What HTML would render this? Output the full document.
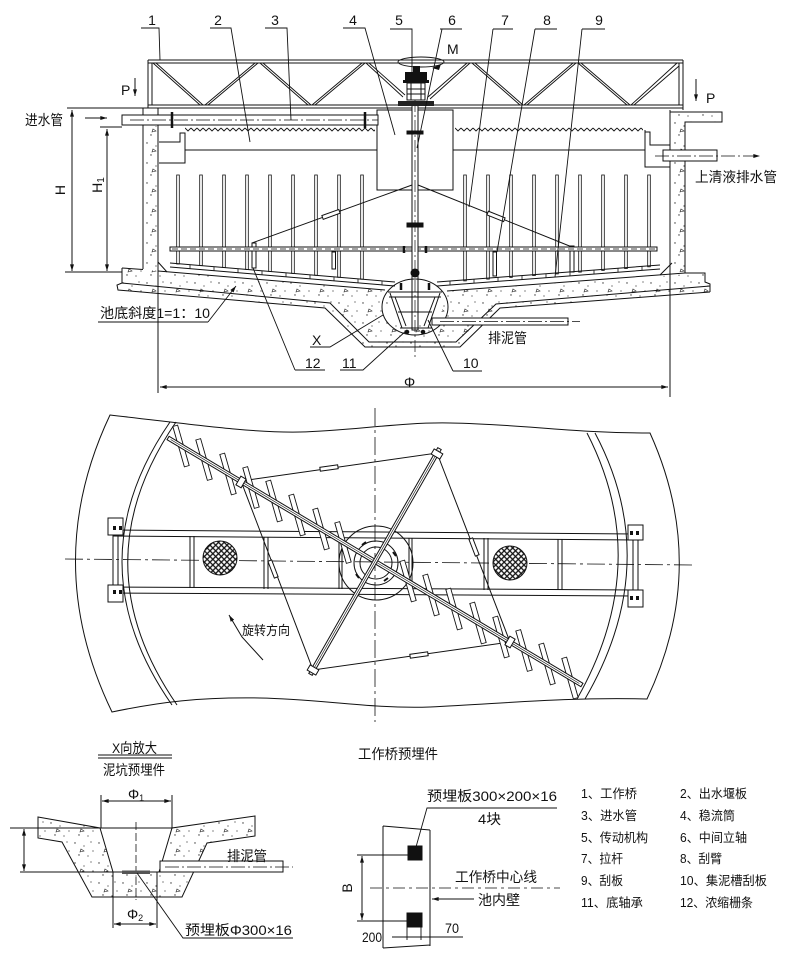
<!DOCTYPE html>
<html><head><meta charset="utf-8">
<style>
html,body{margin:0;padding:0;background:#fff;}
svg{display:block;}
text{font-family:"Liberation Sans","Noto Sans CJK SC",sans-serif;fill:#111;stroke:none;}
</style></head><body>
<svg width="800" height="964" viewBox="0 0 800 964" xmlns="http://www.w3.org/2000/svg">
<defs>
<pattern id="conc" width="24" height="20" patternUnits="userSpaceOnUse">
 <circle cx="3" cy="3" r=".7" fill="#333"/><circle cx="12" cy="6" r=".6" fill="#333"/><circle cx="19" cy="2" r=".6" fill="#333"/>
 <circle cx="7" cy="15" r=".7" fill="#333"/><circle cx="16" cy="16" r=".6" fill="#333"/><circle cx="21" cy="11" r=".6" fill="#333"/>
 <path d="M9,9 l3,2 l-4,1 z" fill="none" stroke="#222" stroke-width=".6"/>
</pattern>
<pattern id="zzL" x="185" y="127" width="6" height="5" patternUnits="userSpaceOnUse"><path d="M0,1 L3,4 L6,1" fill="none" stroke="#111" stroke-width="0.9"/></pattern>
<pattern id="zzR" x="455" y="127" width="6" height="5" patternUnits="userSpaceOnUse"><path d="M0,1 L3,4 L6,1" fill="none" stroke="#111" stroke-width="0.9"/></pattern>
<pattern id="weave" width="4" height="4" patternUnits="userSpaceOnUse" patternTransform="rotate(45)">
 <rect width="4" height="4" fill="#fff"/>
 <path d="M0,1 H4 M2,0 V4" stroke="#111" stroke-width="1.3"/>
</pattern>
<marker id="ar" viewBox="0 0 10 6" refX="10" refY="3" markerWidth="9" markerHeight="4" orient="auto-start-reverse" markerUnits="userSpaceOnUse"><path d="M0,0 L10,3 L0,6 z" fill="#111"/></marker>
</defs>
<rect width="800" height="964" fill="#fff"/>

<!-- ================= ELEVATION ================= -->
<g fill="none" stroke="#111" stroke-width="1">
 <!-- concrete fills -->
 <rect x="143" y="126" width="15" height="142" fill="url(#conc)" stroke="none"/>
 <polygon points="670,112 722,112 722,122 685,122 685,272 670,272" fill="url(#conc)" stroke="none"/>
 <polygon points="122,268 160,271 385,290 392,325 438,325 447,291 705,273 710,286 710,292 500,308 460,347 365,347 325,308 118,290 117,285 122,283" fill="url(#conc)" stroke="none"/>

 <!-- truss -->
 <path d="M148,60 H683 M148,63 H683 M148,105 H683 M148,108 H683 M148,60 V108 M152,63 V105 M683,60 V110 M679,63 V105"/>
 <path d="M153,63 L200,105 M156,63 L203,105
          M205,105 L255,63 M208,105 L258,63
          M260,63 L308,105 M263,63 L311,105
          M312,105 L362,63 M315,105 L365,63
          M366,63 L403,97 M369,63 L405,95
          M428,97 L467,63 M430,99 L470,63
          M472,63 L520,105 M475,63 L523,105
          M524,105 L573,63 M527,105 L576,63
          M578,63 L627,105 M581,63 L630,105
          M631,105 L677,63 M634,105 L679,66" stroke-width="0.9"/>
 <!-- H top line -->
 <line x1="67" y1="108" x2="148" y2="108"/>
 <line x1="100" y1="127" x2="122" y2="127"/>
 <line x1="65" y1="272" x2="122" y2="272"/>
 <line x1="72" y1="110" x2="72" y2="271" marker-start="url(#ar)" marker-end="url(#ar)"/>
 <line x1="107" y1="129" x2="107" y2="271" marker-start="url(#ar)" marker-end="url(#ar)"/>

 <!-- walls -->
 <line x1="143" y1="108" x2="143" y2="269"/>
 <line x1="158" y1="108" x2="158" y2="393"/>
 <path d="M159,142 H180 V133 H185 V163 H159"/>
 <line x1="670" y1="110" x2="670" y2="397"/>
 <path d="M670,112 H722 V122 H685 V273"/>
 <path d="M645,130 V167 H670 M645,132 H650 V145 H670"/>

 <!-- weir & tank inner -->
 <rect x="185" y="127" width="190" height="5" fill="url(#zzL)" stroke="none"/>
 <rect x="455" y="127" width="188" height="5" fill="url(#zzR)" stroke="none"/>
 <line x1="185" y1="150" x2="377" y2="150"/>
 <line x1="453" y1="150" x2="645" y2="150"/>
 <line x1="377" y1="128" x2="377" y2="150"/>
 <!-- stilling drum -->
 <rect x="377" y="110" width="76" height="80" fill="#fff"/>

 <!-- inlet pipe -->
 <rect x="122" y="115" width="256" height="10" fill="#fff"/>
 <line x1="130" y1="120" x2="378" y2="120" stroke-dasharray="14 3 2 3" stroke-width=".8"/>
 <path d="M172,112 V128 M365,112 V128" stroke-width="2.5"/>

 <!-- outlet pipe -->
 <rect x="663" y="150" width="54" height="11" fill="#fff"/>
 <line x1="655" y1="156" x2="760" y2="156" stroke-dasharray="14 3 2 3" stroke-width=".8" marker-end="url(#ar)"/>

 <!-- P arrows -->
 <line x1="135" y1="78" x2="135" y2="96" marker-end="url(#ar)"/>
 <line x1="696" y1="79" x2="696" y2="101" marker-end="url(#ar)"/>
 <line x1="85" y1="118" x2="107" y2="118" marker-end="url(#ar)"/>

 <!-- pickets -->
 <g fill="#fff" stroke-width=".8">
  <rect x="176.7" y="175" width="2.6" height="89"/>
  <rect x="199.7" y="175" width="2.6" height="90.6"/>
  <rect x="222.7" y="175" width="2.6" height="92.6"/>
  <rect x="245.7" y="175" width="2.6" height="94.5"/>
  <rect x="268.7" y="175" width="2.6" height="96.4"/>
  <rect x="291.7" y="175" width="2.6" height="98.4"/>
  <rect x="314.7" y="175" width="2.6" height="100.3"/>
  <rect x="337.7" y="175" width="2.6" height="102.3"/>
  <rect x="360.7" y="175" width="2.6" height="104.2"/>
  <rect x="463.7" y="175" width="2.6" height="105.9"/>
  <rect x="486.7" y="175" width="2.6" height="104.1"/>
  <rect x="509.7" y="175" width="2.6" height="102.4"/>
  <rect x="532.7" y="175" width="2.6" height="100.6"/>
  <rect x="555.7" y="175" width="2.6" height="98.9"/>
  <rect x="578.7" y="175" width="2.6" height="97.1"/>
  <rect x="601.7" y="175" width="2.6" height="95.4"/>
  <rect x="624.7" y="175" width="2.6" height="93.6"/>
  <rect x="647.7" y="175" width="2.6" height="91.8"/>
 </g>

 <!-- tie rods -->
 <line x1="412" y1="185" x2="252" y2="243"/>
 <line x1="418" y1="185" x2="572" y2="247"/>
 <rect x="-9" y="-2" width="18" height="4" fill="#fff" transform="translate(331,214.4) rotate(-19.9)"/>
 <rect x="-9" y="-2" width="18" height="4" fill="#fff" transform="translate(496,216.4) rotate(21.9)"/>

 <!-- supports -->
 <rect x="252" y="243" width="4" height="25" fill="#fff"/>
 <rect x="570" y="246" width="4" height="26" fill="#fff"/>
 <rect x="332" y="252" width="3.5" height="17" fill="#fff"/>
 <rect x="493" y="252" width="3.5" height="24" fill="#fff"/>

 <!-- scraper arm -->
 <rect x="170" y="247" width="487" height="4" fill="#fff"/>
 <line x1="172" y1="249" x2="655" y2="249" stroke-dasharray="6 3" stroke-width=".7"/>

 <!-- scraper blades -->
 <path d="M170,263 L395,282 M170,267 L395,286 M437,282 L660,265 M437,286 L660,269"/>
 <path d="M190,264.7 v4 M214,266.7 v4 M238,268.7 v4 M262,270.8 v4 M286,272.8 v4 M310,274.8 v4 M334,276.8 v4 M358,278.9 v4 M382,280.9 v4
          M450,281 v4 M474,279.2 v4 M498,277.4 v4 M522,275.5 v4 M546,273.7 v4 M570,271.9 v4 M594,270 v4 M618,268.2 v4 M642,266.4 v4" stroke-width=".8"/>

 <!-- floor lines -->
 <path d="M122,268 L143,269.5 M158,271 L385,290 M447,291 L685,273 L705,273 V282 L710,284 V292"/>
 <path d="M122,268 V283 L117,285 L118,290 L325,308 L365,347 L460,347 L500,308 L710,292"/>
 <path d="M122,283 L330,303 L369,342 L456,342 L496,304 L710,286"/>
 <path d="M158,262 L167,272 M660,275 L672,263"/>

 <!-- centre shaft -->
 <rect x="412" y="105" width="6" height="225" fill="#fff"/>
 <line x1="415" y1="100" x2="415" y2="360" stroke-dasharray="12 3 2 3" stroke-width=".7"/>
 <rect x="407" y="223" width="16" height="4" fill="#111"/>
 <rect x="407" y="131" width="16" height="3" fill="#111"/>
 <path d="M404,246 V253 M426,246 V253 M401,283 V290 M429,283 V290" stroke-width="2.5"/>
 <circle cx="415" cy="273" r="4" fill="#111"/>

 <!-- pit frame / X circle -->
 <ellipse cx="415" cy="307" rx="33" ry="28"/>
 <path d="M388,292 H442 M389,297 H441 M390,293 L402,328 M395,297 L406,326 M440,293 L428,328 M435,297 L424,326 M398,312 H432 M400,328 H432" fill="none"/>
 <circle cx="407" cy="332" r="1.8" fill="#111"/>
 <circle cx="423" cy="332" r="1.8" fill="#111"/>

 <!-- sludge pipe -->
 <rect x="432" y="318" width="136" height="7" fill="#fff"/>
 <line x1="440" y1="321.5" x2="580" y2="321.5" stroke-dasharray="14 3 2 3" stroke-width=".7"/>

 <!-- drive -->
 <ellipse cx="421" cy="62" rx="23" ry="5" stroke-width=".9"/>
 <polygon points="441,64 432,68 439,70" fill="#111" stroke="none"/>
 <rect x="413" y="66" width="7" height="6" fill="#111" stroke="none"/>
 <rect x="405" y="72" width="22" height="9" fill="#111" stroke="none"/>
 <rect x="403" y="80" width="26" height="3" fill="#111" stroke="none"/>
 <rect x="407" y="83" width="18" height="17" fill="#fff"/>
 <path d="M407,89 H425 M407,94 H425 M411,83 V100 M421,83 V100"/>
 <rect x="398" y="101" width="36" height="5" fill="#222" stroke="none"/>

 <!-- Phi dimension -->
 <line x1="160" y1="387" x2="668" y2="387" marker-start="url(#ar)" marker-end="url(#ar)"/>

 <!-- leaders -->
 <path d="M141,28 H159 L160,60 M210,28 H231 L250,142 M265,28 H287 L291,120 M343,28 H365 L395,135 M390,29 H412 V75 M440,29 H462 M442,29 L417,148 M493,29 H513 M493,29 L469,207 M535,29 H557 M535,29 L497,252 M582,29 H605 M582,29 L555,277" stroke-width=".9"/>
 <path d="M310,347 H330 L383,315 M295,370 H325 M295,370 L253,268 M340,370 H363 L407,330 M453,371 H482 M453,371 L428,320 M98,322 H208" stroke-width=".9"/>
 <line x1="208" y1="322" x2="236" y2="286" marker-end="url(#ar)" stroke-width=".9"/>
</g>

<!-- elevation texts -->
<g font-size="14">
 <text x="152" y="25" text-anchor="middle">1</text>
 <text x="218" y="25" text-anchor="middle">2</text>
 <text x="275" y="25" text-anchor="middle">3</text>
 <text x="353" y="25" text-anchor="middle">4</text>
 <text x="399" y="25" text-anchor="middle">5</text>
 <text x="452" y="25" text-anchor="middle">6</text>
 <text x="505" y="25" text-anchor="middle">7</text>
 <text x="547" y="25" text-anchor="middle">8</text>
 <text x="599" y="25" text-anchor="middle">9</text>
 <text x="447" y="54">M</text>
 <text x="121" y="95">P</text>
 <text x="706" y="103">P</text>
 <text x="25" y="125" textLength="38" lengthAdjust="spacingAndGlyphs">进水管</text>
 <text x="695" y="182" textLength="82" lengthAdjust="spacingAndGlyphs">上清液排水管</text>
 <text x="100" y="318" textLength="110" lengthAdjust="spacingAndGlyphs">池底斜度1=1：10</text>
 <text x="488" y="343" textLength="39" lengthAdjust="spacingAndGlyphs">排泥管</text>
 <text x="312" y="345">X</text>
 <text x="305" y="368">12</text>
 <text x="342" y="368">11</text>
 <text x="463" y="368">10</text>
 <text x="404" y="387">Φ</text>
 <text transform="translate(65,190) rotate(-90)" text-anchor="middle">H</text>
 <text transform="translate(102,185) rotate(-90)" text-anchor="middle">H<tspan font-size="10" dy="2">1</tspan></text>
</g>

<!-- ================= PLAN ================= -->
<g fill="none" stroke="#111" stroke-width="1">
 <path d="M110,415 C190,424 250,433 300,432 C350,431 400,422 450,423 C520,424 570,433 650,433 Q710,566 647,699 C560,697 500,704 430,707 C370,709 320,699 260,698 C200,697 160,702 112,712 Q40,563 110,415 Z"/>
 <path d="M170,422 Q73,563 172,705 M176,422 Q79,563 177,705"/>
 <path d="M587,433 Q654,563 577,699 M595,433 Q664,563 585,699"/>

 <!-- bridge -->
 <path d="M113,530 L638,534 M113,536 L638,540 M113,587 L638,590 M113,593 L638,596"/>
 <path d="M113,535 V588 M118,535 V588 M633,540 V591 M638,540 V591"/>
 <rect x="108" y="518" width="15" height="17" fill="#fff"/>
 <rect x="108" y="585" width="15" height="17" fill="#fff"/>
 <rect x="628" y="525" width="15" height="15" fill="#fff"/>
 <rect x="628" y="590" width="15" height="17" fill="#fff"/>
 <g fill="#111" stroke="none">
  <rect x="113" y="526" width="3" height="4"/><rect x="119" y="526" width="3" height="4"/>
  <rect x="113" y="590" width="3" height="4"/><rect x="119" y="590" width="3" height="4"/>
  <rect x="630" y="531" width="3" height="4"/><rect x="636" y="531" width="3" height="4"/>
  <rect x="630" y="596" width="3" height="4"/><rect x="636" y="596" width="3" height="4"/>
 </g>
 <path d="M190,536 V588 M194,536 V588 M264,537 V589 M268,537 V589 M339,537 V589 M342,537 V589 M409,538 V589 M412,538 V589 M484,538 V590 M488,538 V590 M558,539 V590 M562,539 V590"/>

 <!-- centre lines -->
 <line x1="65" y1="559" x2="693" y2="565" stroke-dasharray="18 4 3 4" stroke-width=".8"/>
 <line x1="375" y1="408" x2="375" y2="722" stroke-dasharray="18 4 3 4" stroke-width=".8"/>

 <!-- hatched discs -->
 <circle cx="220" cy="558" r="17" fill="url(#weave)"/>
 <circle cx="510" cy="563" r="17" fill="url(#weave)"/>

 <!-- centre circles -->
 <circle cx="376" cy="563" r="37"/>
 <circle cx="376" cy="563" r="22"/>
 <circle cx="376" cy="563" r="16"/>

 <!-- tie rods -->
 <path d="M241,481 L437,453 L510,642 L313,670 Z"/>
 <g fill="#fff">
  <rect x="-9" y="-2" width="18" height="4" transform="translate(329,468) rotate(-8)"/>
  <rect x="-9" y="-2" width="18" height="4" transform="translate(474,547) rotate(69)"/>
  <rect x="-9" y="-2" width="18" height="4" transform="translate(419,655) rotate(-8)"/>
  <rect x="-9" y="-2" width="18" height="4" transform="translate(273,569) rotate(69)"/>
 </g>

 <!-- blades -->
 <g fill="#fff" stroke-width=".9">
  <rect x="-2.5" y="-21" width="5" height="42" transform="translate(181,446) rotate(-16)"/>
  <rect x="-2.5" y="-21" width="5" height="42" transform="translate(204,459.5) rotate(-16)"/>
  <rect x="-2.5" y="-21" width="5" height="42" transform="translate(228,474) rotate(-16)"/>
  <rect x="-2.5" y="-21" width="5" height="42" transform="translate(251,487.5) rotate(-16)"/>
  <rect x="-2.5" y="-21" width="5" height="42" transform="translate(274,501) rotate(-16)"/>
  <rect x="-2.5" y="-21" width="5" height="42" transform="translate(297,515) rotate(-16)"/>
  <rect x="-2.5" y="-21" width="5" height="42" transform="translate(321,529) rotate(-16)"/>
  <rect x="-2.5" y="-21" width="5" height="42" transform="translate(343,542.5) rotate(-16)"/>
  <rect x="-2.5" y="-21" width="5" height="42" transform="translate(408,581) rotate(-16)"/>
  <rect x="-2.5" y="-21" width="5" height="42" transform="translate(431,595) rotate(-16)"/>
  <rect x="-2.5" y="-21" width="5" height="42" transform="translate(454,609) rotate(-16)"/>
  <rect x="-2.5" y="-21" width="5" height="42" transform="translate(478,623) rotate(-16)"/>
  <rect x="-2.5" y="-21" width="5" height="42" transform="translate(501,637) rotate(-16)"/>
  <rect x="-2.5" y="-21" width="5" height="42" transform="translate(524,650.5) rotate(-16)"/>
  <rect x="-2.5" y="-21" width="5" height="42" transform="translate(547,664) rotate(-16)"/>
  <rect x="-2.5" y="-21" width="5" height="42" transform="translate(570,678) rotate(-16)"/>
 </g>

 <!-- arms -->
 <rect x="-241" y="-2" width="482" height="4" fill="#fff" transform="translate(375,561.5) rotate(30.83)"/>
 <line x1="-238" y1="0" x2="238" y2="0" stroke-width=".6" transform="translate(375,561.5) rotate(30.83)"/>
 <rect x="-130" y="-2" width="260" height="4" fill="#fff" transform="translate(375,561.5) rotate(-60.26)"/>
 <line x1="-128" y1="0" x2="128" y2="0" stroke-width=".6" transform="translate(375,561.5) rotate(-60.26)"/>
 <g fill="#fff">
  <rect x="-5" y="-3" width="10" height="6" transform="translate(437,454) rotate(30)"/>
  <rect x="-5" y="-3" width="10" height="6" transform="translate(241,482) rotate(-60)"/>
  <rect x="-5" y="-3" width="10" height="6" transform="translate(313,670) rotate(30)"/>
  <rect x="-5" y="-3" width="10" height="6" transform="translate(510,642) rotate(-60)"/>
 </g>
 <path d="M362,545 l4,-3 M384,581 l4,-3 M393,552 l3,4 M356,574 l3,4" stroke-width="2"/>

 <!-- rotation arrow -->
 <path d="M263,660 L242,637 L229,615" marker-end="url(#ar)"/>
</g>
<text x="242" y="635" font-size="13" textLength="48" lengthAdjust="spacingAndGlyphs">旋转方向</text>

<!-- ================= X DETAIL ================= -->
<g fill="none" stroke="#111" stroke-width="1">
 <polygon points="38,817 100,828 113,872 159,872 172,828 255,816 255,836 207,843 182,897 92,897 62,842 38,838" fill="url(#conc)"/>
 <line x1="10" y1="828" x2="173" y2="828"/>
 <line x1="20" y1="872" x2="160" y2="872"/>
 <line x1="24" y1="829" x2="24" y2="871" marker-start="url(#ar)" marker-end="url(#ar)"/>
 <path d="M101,795 V828 M172,795 V828"/>
 <line x1="102" y1="801" x2="171" y2="801" marker-start="url(#ar)" marker-end="url(#ar)"/>
 <path d="M113,872 V928 M157,872 V928"/>
 <line x1="114" y1="924" x2="156" y2="924" marker-start="url(#ar)" marker-end="url(#ar)"/>
 <line x1="136" y1="822" x2="136" y2="900" stroke-dasharray="8 3" stroke-width=".8"/>
 <rect x="122" y="870.5" width="28" height="3.5" fill="#555" stroke="none"/>
 <rect x="160" y="861" width="123" height="11" fill="#fff"/>
 <line x1="165" y1="867" x2="293" y2="867" stroke-dasharray="14 3 2 3" stroke-width=".7"/>
 <path d="M137,873 L183,938 H293" stroke-width=".9"/>
 <path d="M98,755 H172 M98,758 H172" stroke-width=".9"/>
</g>
<g font-size="14">
 <text x="112" y="753" textLength="45" lengthAdjust="spacingAndGlyphs">X向放大</text>
 <text x="103" y="775" textLength="62" lengthAdjust="spacingAndGlyphs">泥坑预埋件</text>
 <text x="128" y="799">Φ<tspan font-size="9" dy="2">1</tspan></text>
 <text x="127" y="919">Φ<tspan font-size="9" dy="2">2</tspan></text>
 <text x="227" y="861" textLength="40" lengthAdjust="spacingAndGlyphs">排泥管</text>
 <text x="185" y="935" textLength="107" lengthAdjust="spacingAndGlyphs">预埋板Φ300×16</text>
</g>

<!-- ================= BRIDGE EMBED DETAIL ================= -->
<g fill="none" stroke="#111" stroke-width="1">
 <path d="M383,826 L430,830 M383,826 V948 M430,830 V946 M383,948 L430,945"/>
 <rect x="408" y="846" width="14" height="14" fill="#111"/>
 <rect x="407" y="913" width="15" height="14" fill="#111"/>
 <path d="M357,855 H408 M357,921 H407"/>
 <line x1="362" y1="856" x2="362" y2="920" marker-start="url(#ar)" marker-end="url(#ar)"/>
 <line x1="370" y1="888" x2="560" y2="888" stroke-dasharray="12 4 3 4" stroke-width=".8"/>
 <path d="M416,847 L427,808 H557" stroke-width=".9"/>
 <line x1="474" y1="899" x2="432" y2="899" marker-end="url(#ar)"/>
 <path d="M392,937 H463 M407,927 V940 M421,927 V940" stroke-width=".9"/>
</g>
<g font-size="14">
 <text x="358" y="759" textLength="80" lengthAdjust="spacingAndGlyphs">工作桥预埋件</text>
 <text x="427" y="801" textLength="130" lengthAdjust="spacingAndGlyphs">预埋板300×200×16</text>
 <text x="478" y="824" textLength="23" lengthAdjust="spacingAndGlyphs">4块</text>
 <text x="455" y="882" textLength="82" lengthAdjust="spacingAndGlyphs">工作桥中心线</text>
 <text x="478" y="905" textLength="42" lengthAdjust="spacingAndGlyphs">池内壁</text>
 <text x="362" y="942" textLength="20" lengthAdjust="spacingAndGlyphs">200</text>
 <text x="445" y="933" textLength="14" lengthAdjust="spacingAndGlyphs">70</text>
 <text transform="translate(352,888) rotate(-90)" text-anchor="middle">B</text>
</g>

<!-- ================= LEGEND ================= -->
<g font-size="12.5">
 <text x="581" y="798" textLength="56" lengthAdjust="spacingAndGlyphs">1、工作桥</text>
 <text x="680" y="798" textLength="67" lengthAdjust="spacingAndGlyphs">2、出水堰板</text>
 <text x="581" y="820" textLength="56" lengthAdjust="spacingAndGlyphs">3、进水管</text>
 <text x="680" y="820" textLength="55" lengthAdjust="spacingAndGlyphs">4、稳流筒</text>
 <text x="581" y="842" textLength="67" lengthAdjust="spacingAndGlyphs">5、传动机构</text>
 <text x="680" y="842" textLength="67" lengthAdjust="spacingAndGlyphs">6、中间立轴</text>
 <text x="581" y="863" textLength="42" lengthAdjust="spacingAndGlyphs">7、拉杆</text>
 <text x="680" y="863" textLength="42" lengthAdjust="spacingAndGlyphs">8、刮臂</text>
 <text x="581" y="885" textLength="42" lengthAdjust="spacingAndGlyphs">9、刮板</text>
 <text x="680" y="885" textLength="87" lengthAdjust="spacingAndGlyphs">10、集泥槽刮板</text>
 <text x="581" y="907" textLength="62" lengthAdjust="spacingAndGlyphs">11、底轴承</text>
 <text x="680" y="907" textLength="73" lengthAdjust="spacingAndGlyphs">12、浓缩栅条</text>
</g>
</svg>
</body></html>
